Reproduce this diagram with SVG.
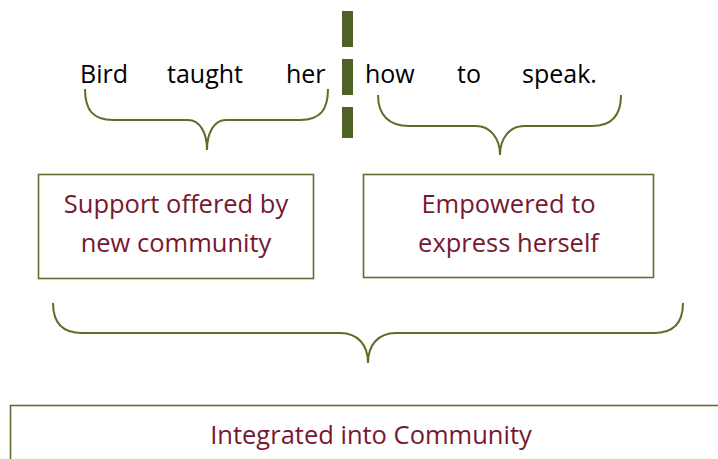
<svg xmlns="http://www.w3.org/2000/svg" width="718" height="459" viewBox="0 0 718 459">
  <style>
    .word { font-family: "Open Sans", "Liberation Sans", sans-serif; font-size: 25px; fill: #000; }
    .label { font-family: "Open Sans", "Liberation Sans", sans-serif; font-size: 25.5px; fill: #77182F; text-anchor: middle; }
    .box { fill: #fff; stroke: #5E7132; stroke-width: 1.6; }
    .brace { fill: none; stroke: #5B6F2B; stroke-width: 2; }
    .bar { fill: #4F6228; }
  </style>

  <!-- sentence split into words -->
  <g id="sentence">
    <text class="word" x="80" y="83">Bird</text>
    <text class="word" x="167" y="83">taught</text>
    <text class="word" x="286" y="83">her</text>
    <text class="word" x="365" y="83">how</text>
    <text class="word" x="457" y="83">to</text>
    <text class="word" x="522" y="83">speak.</text>
  </g>

  <!-- dashed divider between the two halves -->
  <g id="divider">
    <rect class="bar" x="342" y="11" width="11" height="36"/>
    <rect class="bar" x="342" y="59" width="11" height="36"/>
    <rect class="bar" x="342" y="107" width="11" height="31"/>
  </g>

  <!-- curly braces -->
  <g id="connectors">
    <path class="brace" d="M85,89 C85,110 93,120 113,120 L188,120 C200,120 207,133 207,150 C207,133 214,120 226,120 L300,120 C320,120 328,110 328,89"/>
    <path class="brace" d="M378,95 C378,115 389,126 409,126 L476,126 C490,126 500,138 500,155 C500,138 510,126 524,126 L592,126 C612,126 621,115 621,95"/>
    <path class="brace" d="M53,303 C53,322 62,333 82,333 L340,333 C358,333 368,345 368,363 C368,345 378,333 396,333 L654,333 C674,333 683,322 683,303"/>
  </g>

  <g id="support">
    <rect class="box" x="38.5" y="174.5" width="275" height="104"/>
    <text class="label" x="176" y="213">Support offered by</text>
    <text class="label" x="176" y="252">new community</text>
  </g>

  <g id="empowered">
    <rect class="box" x="363.5" y="174.5" width="290" height="103"/>
    <text class="label" x="508.5" y="213">Empowered to</text>
    <text class="label" x="508.5" y="252">express herself</text>
  </g>

  <g id="integrated">
    <rect class="box" x="10.5" y="405.5" width="720" height="70"/>
    <text class="label" x="371" y="444">Integrated into Community</text>
  </g>
</svg>
